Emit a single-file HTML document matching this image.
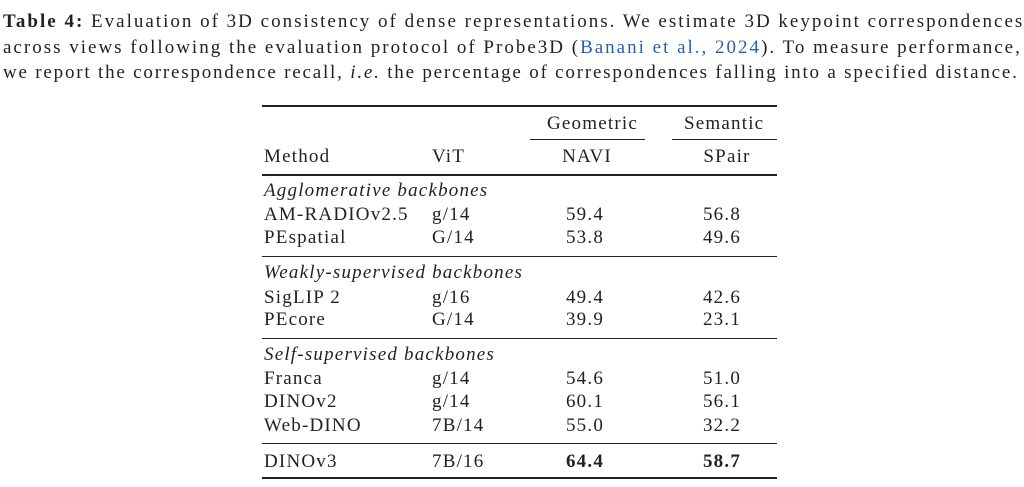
<!DOCTYPE html>
<html><head><style>
body{margin:0;width:1024px;height:487px;background:#fff;position:relative;overflow:hidden;font-family:"Liberation Serif",serif;color:#222;font-size:19px}
.t{position:absolute;line-height:22px;white-space:nowrap;letter-spacing:1.2px}
.cap{letter-spacing:2px}
.r{position:absolute;background:#222;left:262px;width:515px}
.c{text-align:center;width:80px}
i{font-style:italic}
a{color:#2a5fa8;text-decoration:none}
</style></head><body>
<div class="t cap" style="left:3px;top:11px">
<b>Table 4:</b> Evaluation of 3D consistency of dense representations. We estimate 3D keypoint correspondences</div>
<div class="t cap" style="left:3px;top:37px">across views following the evaluation protocol of Probe3D (<a>Banani et al., 2024</a>). To measure performance,</div>
<div class="t cap" style="left:3px;top:62px;letter-spacing:1.8px">we report the correspondence recall, <i>i.e.</i> the percentage of correspondences falling into a specified distance.</div>

<div class="r" style="top:105px;height:2px"></div>
<div class="r" style="left:530px;width:115px;top:139px;height:1px"></div>
<div class="r" style="left:672px;width:105px;top:139px;height:1px"></div>
<div class="r" style="top:174px;height:1.5px"></div>
<div class="r" style="top:256px;height:1px"></div>
<div class="r" style="top:338px;height:1px"></div>
<div class="r" style="top:443px;height:1px"></div>
<div class="r" style="top:477px;height:2px"></div>

<div class="t c" style="left:547px;top:113px">Geometric</div>
<div class="t c" style="left:684px;top:113px">Semantic</div>
<div class="t" style="left:264px;top:146px">Method</div>
<div class="t" style="left:432px;top:146px">ViT</div>
<div class="t c" style="left:547px;top:146px">NAVI</div>
<div class="t c" style="left:687px;top:146px">SPair</div>

<div class="t" style="left:264px;top:180px"><i>Agglomerative backbones</i></div>
<div class="t" style="left:264px;top:204px">AM-RADIOv2.5</div><div class="t" style="left:432px;top:204px">g/14</div><div class="t c" style="left:545px;top:204px">59.4</div><div class="t c" style="left:682px;top:204px">56.8</div>
<div class="t" style="left:264px;top:227px">PEspatial</div><div class="t" style="left:432px;top:227px">G/14</div><div class="t c" style="left:545px;top:227px">53.8</div><div class="t c" style="left:682px;top:227px">49.6</div>

<div class="t" style="left:264px;top:262px"><i>Weakly-supervised backbones</i></div>
<div class="t" style="left:264px;top:287px">SigLIP 2</div><div class="t" style="left:432px;top:287px">g/16</div><div class="t c" style="left:545px;top:287px">49.4</div><div class="t c" style="left:682px;top:287px">42.6</div>
<div class="t" style="left:264px;top:309px">PEcore</div><div class="t" style="left:432px;top:309px">G/14</div><div class="t c" style="left:545px;top:309px">39.9</div><div class="t c" style="left:682px;top:309px">23.1</div>

<div class="t" style="left:264px;top:344px"><i>Self-supervised backbones</i></div>
<div class="t" style="left:264px;top:368px">Franca</div><div class="t" style="left:432px;top:368px">g/14</div><div class="t c" style="left:545px;top:368px">54.6</div><div class="t c" style="left:682px;top:368px">51.0</div>
<div class="t" style="left:264px;top:391px">DINOv2</div><div class="t" style="left:432px;top:391px">g/14</div><div class="t c" style="left:545px;top:391px">60.1</div><div class="t c" style="left:682px;top:391px">56.1</div>
<div class="t" style="left:264px;top:415px">Web-DINO</div><div class="t" style="left:432px;top:415px">7B/14</div><div class="t c" style="left:545px;top:415px">55.0</div><div class="t c" style="left:682px;top:415px">32.2</div>

<div class="t" style="left:264px;top:451px">DINOv3</div><div class="t" style="left:432px;top:451px">7B/16</div><div class="t c" style="left:545px;top:451px"><b>64.4</b></div><div class="t c" style="left:682px;top:451px"><b>58.7</b></div>
</body></html>
